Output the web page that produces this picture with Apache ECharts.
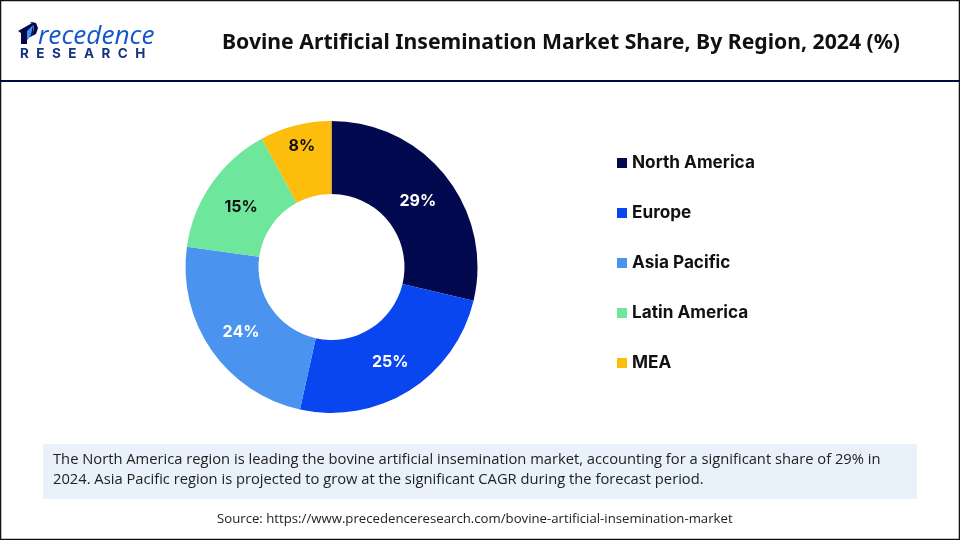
<!DOCTYPE html>
<html>
<head>
<meta charset="utf-8">
<style>
  html, body { margin: 0; padding: 0; background: #fff; }
  #main { width: 960px; height: 540px; }
</style>
<script src="https://cdn.jsdelivr.net/npm/echarts@6/dist/echarts.min.js"></script>
</head>
<body>
<div id="main"></div>
<script>
const regions = ['North America', 'Europe', 'Asia Pacific', 'Latin America', 'MEA']
const shares = [29, 25, 24, 15, 8]
const colors = ['#02094f', '#0a46f0', '#4a93ef', '#6ee69c', '#fdbd0d']
const labelColors = ['#ffffff', '#ffffff', '#ffffff', '#111111', '#111111']
const titleText = 'Bovine Artificial Insemination Market Share, By Region, 2024 (%)'
const noteLines = [
  'The North America region is leading the bovine artificial insemination market, accounting for a significant share of 29% in',
  '2024. Asia Pacific region is projected to grow at the significant CAGR during the forecast period.'
]
const sourceText = 'Source: https://www.precedenceresearch.com/bovine-artificial-insemination-market'

// nudges so the slice labels sit where the reference has them
const labelNudge = [[-2, 4], [-1, 0], [2, 1], [2, 4], [-2, -12]]

const myChart = echarts.init(document.getElementById('main'), null, { renderer: 'canvas' })
const option = {
  animation: false,
  backgroundColor: '#ffffff',
  title: {
    text: titleText,
    left: 217,
    top: 27,
    textStyle: { fontFamily: 'Noto Sans', fontSize: 21.2, fontWeight: 'bold', color: '#111111' }
  },
  legend: {
    orient: 'vertical',
    left: 612,
    top: 149,
    itemWidth: 10,
    itemHeight: 10,
    itemGap: 32,
    icon: 'rect',
    data: regions,
    textStyle: { fontFamily: 'Inter', fontSize: 17.2, fontWeight: 'bold', color: '#111111', height: 18, lineHeight: 18 }
  },
  series: [{
    type: 'pie',
    center: [331.5, 267],
    radius: [73, 146],
    startAngle: 90,
    clockwise: true,
    silent: true,
    data: regions.map((name, i) => ({
      name,
      value: shares[i],
      itemStyle: { color: colors[i] },
      label: { color: labelColors[i] }
    })),
    label: {
      show: true,
      position: 'inside',
      formatter: '{c}%',
      fontFamily: 'Inter',
      fontSize: 16,
      fontWeight: 'bold'
    },
    labelLayout: params => ({ dx: labelNudge[params.dataIndex][0], dy: labelNudge[params.dataIndex][1] }),
    labelLine: { show: false }
  }],
  graphic: [
    // outer frame and header rule
    { type: 'rect', shape: { x: 0.5, y: 0.5, width: 959, height: 539 }, style: { fill: 'none', stroke: '#111111', lineWidth: 1.5 }, z: 10 },
    { type: 'line', shape: { x1: 0, y1: 81, x2: 960, y2: 81 }, style: { stroke: '#02093f', lineWidth: 2 }, z: 10 },
    // logo
    { type: 'polygon', shape: { points: [[18, 31], [34, 22], [33, 33], [27, 40], [27, 44], [21, 44], [21, 33]] }, style: { fill: '#02094f' } },
    { type: 'polygon', shape: { points: [[30, 22], [36, 23], [38, 28], [36, 34], [30, 37], [27, 37], [33, 33], [34, 26]] }, style: { fill: '#02094f' } },
    { type: 'polygon', shape: { points: [[27, 31], [33, 25], [31, 35], [27, 40]] }, style: { fill: '#3f8fe8' } },
    { type: 'text', left: 38, top: 24, style: { text: 'recedence', font: 'italic 500 26.2px "Open Sans"', fill: '#1557c8' } },
    { type: 'text', left: 20, top: 47, style: { text: 'R\u200a  E\u200a  S\u200a  E\u200a  A\u200a  R\u200a  C\u200a  H', font: 'bold 13.5px "Inter"', fill: '#14347f' } },
    // note box
    { type: 'rect', shape: { x: 43, y: 444, width: 874, height: 55 }, style: { fill: '#e9f1fa' } },
    { type: 'text', left: 53, top: 452, style: { text: noteLines[0], font: '14.73px "Open Sans"', fill: '#222222' } },
    { type: 'text', left: 53, top: 472, style: { text: noteLines[1], font: '14.73px "Open Sans"', fill: '#222222' } },
    { type: 'text', left: 217, top: 513, style: { text: sourceText, font: '13.2px "Open Sans"', fill: '#222222' } }
  ]
}
myChart.setOption(option)
</script>
</body>
</html>
